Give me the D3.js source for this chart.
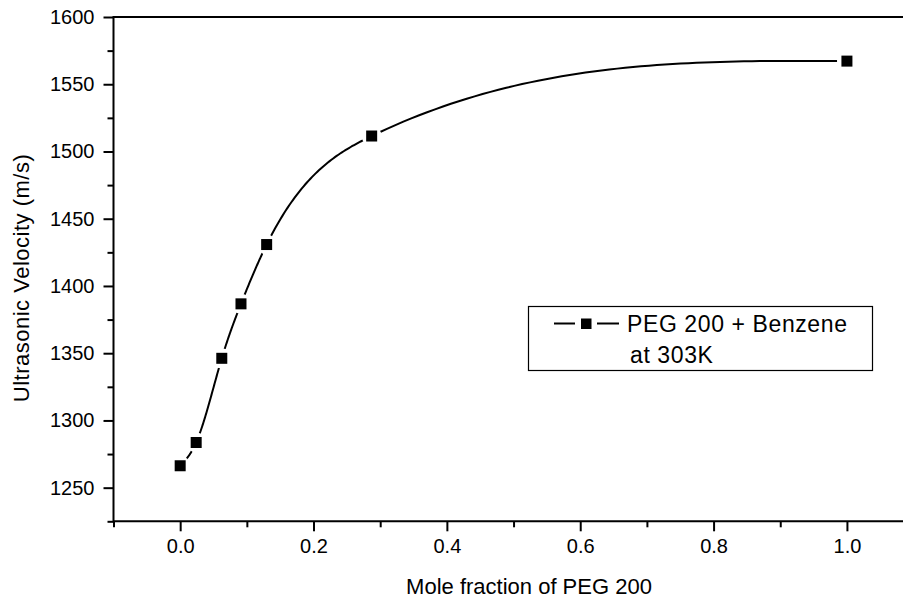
<!DOCTYPE html>
<html>
<head>
<meta charset="utf-8">
<script src="https://cdn.jsdelivr.net/npm/d3@7"></script>
<style>
body { margin: 0; background: #fff; }
svg { display: block; font-family: "Liberation Sans", Arial, sans-serif; }
</style>
</head>
<body>
<svg width="903" height="600"></svg>
<script>
// data
var moleFraction = [0.0, 0.024, 0.0624, 0.0912, 0.1297, 0.2872, 1.0];
var velocity = [1266.3, 1283.6, 1346.2, 1386.7, 1430.8, 1511.5, 1567.2];
var xTicks = [0.0, 0.2, 0.4, 0.6, 0.8, 1.0];
var yTicks = [1250, 1300, 1350, 1400, 1450, 1500, 1550, 1600];
var seriesName = ['PEG 200 + Benzene', 'at 303K'];
var xTitle = 'Mole fraction of PEG 200';
var yTitle = 'Ultrasonic Velocity (m/s)';

var svg = d3.select('svg');
var x = d3.scaleLinear().domain([-0.1, 1.1]).range([113.5, 913.6]);
var y = d3.scaleLinear().domain([1225, 1600]).range([521.3, 17]);

// natural cubic spline y(x), like the smoothed line in the original
function naturalSpline(xs, ys) {
	var n = xs.length;
	var h = [], a = [], b = [], c = [], r = [], m = new Array(n).fill(0);
	for (var i = 0; i < n - 1; i++) h.push(xs[i + 1] - xs[i]);
	for (var i = 1; i < n - 1; i++) {
		a.push(h[i - 1]);
		b.push(2 * (h[i - 1] + h[i]));
		c.push(h[i]);
		r.push(6 * ((ys[i + 1] - ys[i]) / h[i] - (ys[i] - ys[i - 1]) / h[i - 1]));
	}
	var k = b.length;
	for (var i = 1; i < k; i++) {
		var w = a[i] / b[i - 1];
		b[i] -= w * c[i - 1];
		r[i] -= w * r[i - 1];
	}
	var sol = new Array(k);
	sol[k - 1] = r[k - 1] / b[k - 1];
	for (var i = k - 2; i >= 0; i--) sol[i] = (r[i] - c[i] * sol[i + 1]) / b[i];
	for (var i = 0; i < k; i++) m[i + 1] = sol[i];
	return function(t) {
		var j = 0;
		while (j < n - 2 && t > xs[j + 1]) j++;
		var hh = h[j], A = (xs[j + 1] - t) / hh, B = (t - xs[j]) / hh;
		return A * ys[j] + B * ys[j + 1] + ((A * A * A - A) * m[j] + (B * B * B - B) * m[j + 1]) * hh * hh / 6;
	};
}

var f = naturalSpline(moleFraction, velocity);
var curve = [];
for (var i = 0; i < moleFraction.length - 1; i++) {
	var steps = 60;
	for (var s = 0; s < steps; s++) {
		var t = moleFraction[i] + (moleFraction[i + 1] - moleFraction[i]) * s / steps;
		curve.push([t, f(t)]);
	}
}
curve.push([moleFraction[moleFraction.length - 1], velocity[velocity.length - 1]]);

// frame
svg.append('line').attr('x1', x(-0.1)).attr('x2', x(1.1)).attr('y1', y(1600)).attr('y2', y(1600))
	.attr('stroke', '#000').attr('stroke-width', 2);

var xAxis = d3.axisBottom(x).tickValues(xTicks).tickSize(10).tickPadding(8).tickFormat(d3.format('.1f'));
var xMinor = d3.axisBottom(x).tickValues([-0.1, 0.1, 0.3, 0.5, 0.7, 0.9]).tickSize(6).tickFormat('');
var yAxis = d3.axisLeft(y).tickValues(yTicks).tickSize(10).tickPadding(9).tickFormat(d3.format('d'));
var yMinor = d3.axisLeft(y).tickValues([1225, 1275, 1325, 1375, 1425, 1475, 1525, 1575]).tickSize(6).tickFormat('');

function styleAxis(g) {
	g.select('.domain').remove();
	g.selectAll('line').attr('stroke', '#000').attr('stroke-width', 2);
	g.selectAll('text').attr('fill', '#000').style('font-size', '20px').style('font-family', '"Liberation Sans", Arial, sans-serif');
}

svg.append('g').attr('transform', 'translate(0,' + y(1225) + ')').call(xMinor).call(styleAxis);
svg.append('g').attr('transform', 'translate(0,' + y(1225) + ')').call(xAxis).call(styleAxis);
svg.append('g').attr('transform', 'translate(' + x(-0.1) + ',0)').call(yMinor).call(styleAxis);
svg.append('g').attr('transform', 'translate(' + x(-0.1) + ',0)').call(yAxis).call(styleAxis);

svg.append('line').attr('x1', x(-0.1)).attr('x2', x(1.1)).attr('y1', y(1225)).attr('y2', y(1225))
	.attr('stroke', '#000').attr('stroke-width', 2);
svg.append('line').attr('x1', x(-0.1)).attr('x2', x(-0.1)).attr('y1', y(1225) + 1).attr('y2', y(1600) - 1)
	.attr('stroke', '#000').attr('stroke-width', 2);

// titles
svg.append('text').attr('x', 529).attr('y', 594)
	.attr('text-anchor', 'middle').style('font-size', '22px').text(xTitle);
svg.append('text').attr('transform', 'translate(29,278) rotate(-90)')
	.attr('text-anchor', 'middle').style('font-size', '22px').style('letter-spacing', '0.5px').text(yTitle);

// smoothed line
var line = d3.line().x(function(d) { return x(d[0]); }).y(function(d) { return y(d[1]); });
svg.append('path').datum(curve).attr('d', line)
	.attr('fill', 'none').attr('stroke', '#000').attr('stroke-width', 2);

// gaps round the markers, then the markers
var pts = moleFraction.map(function(d, i) { return [d, velocity[i]]; });
svg.append('g').selectAll('circle').data(pts).enter().append('circle')
	.attr('cx', function(d) { return x(d[0]); })
	.attr('cy', function(d) { return y(d[1]); })
	.attr('r', 10).attr('fill', '#fff');
svg.append('g').selectAll('rect').data(pts).enter().append('rect')
	.attr('x', function(d) { return x(d[0]) - 5.5; })
	.attr('y', function(d) { return y(d[1]) - 5.5; })
	.attr('width', 11).attr('height', 11).attr('fill', '#000');

// legend
var leg = svg.append('g');
leg.append('rect').attr('x', 528.5).attr('y', 306.5).attr('width', 344).attr('height', 64)
	.attr('fill', '#fff').attr('stroke', '#000').attr('stroke-width', 1.2);
leg.append('line').attr('x1', 554).attr('x2', 575).attr('y1', 323.5).attr('y2', 323.5).attr('stroke', '#000').attr('stroke-width', 2);
leg.append('line').attr('x1', 597).attr('x2', 619).attr('y1', 323.5).attr('y2', 323.5).attr('stroke', '#000').attr('stroke-width', 2);
leg.append('rect').attr('x', 581).attr('y', 318.5).attr('width', 10.5).attr('height', 10.5).attr('fill', '#000');
leg.append('text').attr('x', 627).attr('y', 332).style('font-size', '23px').style('letter-spacing', '0.6px').text(seriesName[0]);
leg.append('text').attr('x', 630).attr('y', 363).style('font-size', '23px').style('letter-spacing', '0.6px').text(seriesName[1]);
</script>
</body>
</html>
